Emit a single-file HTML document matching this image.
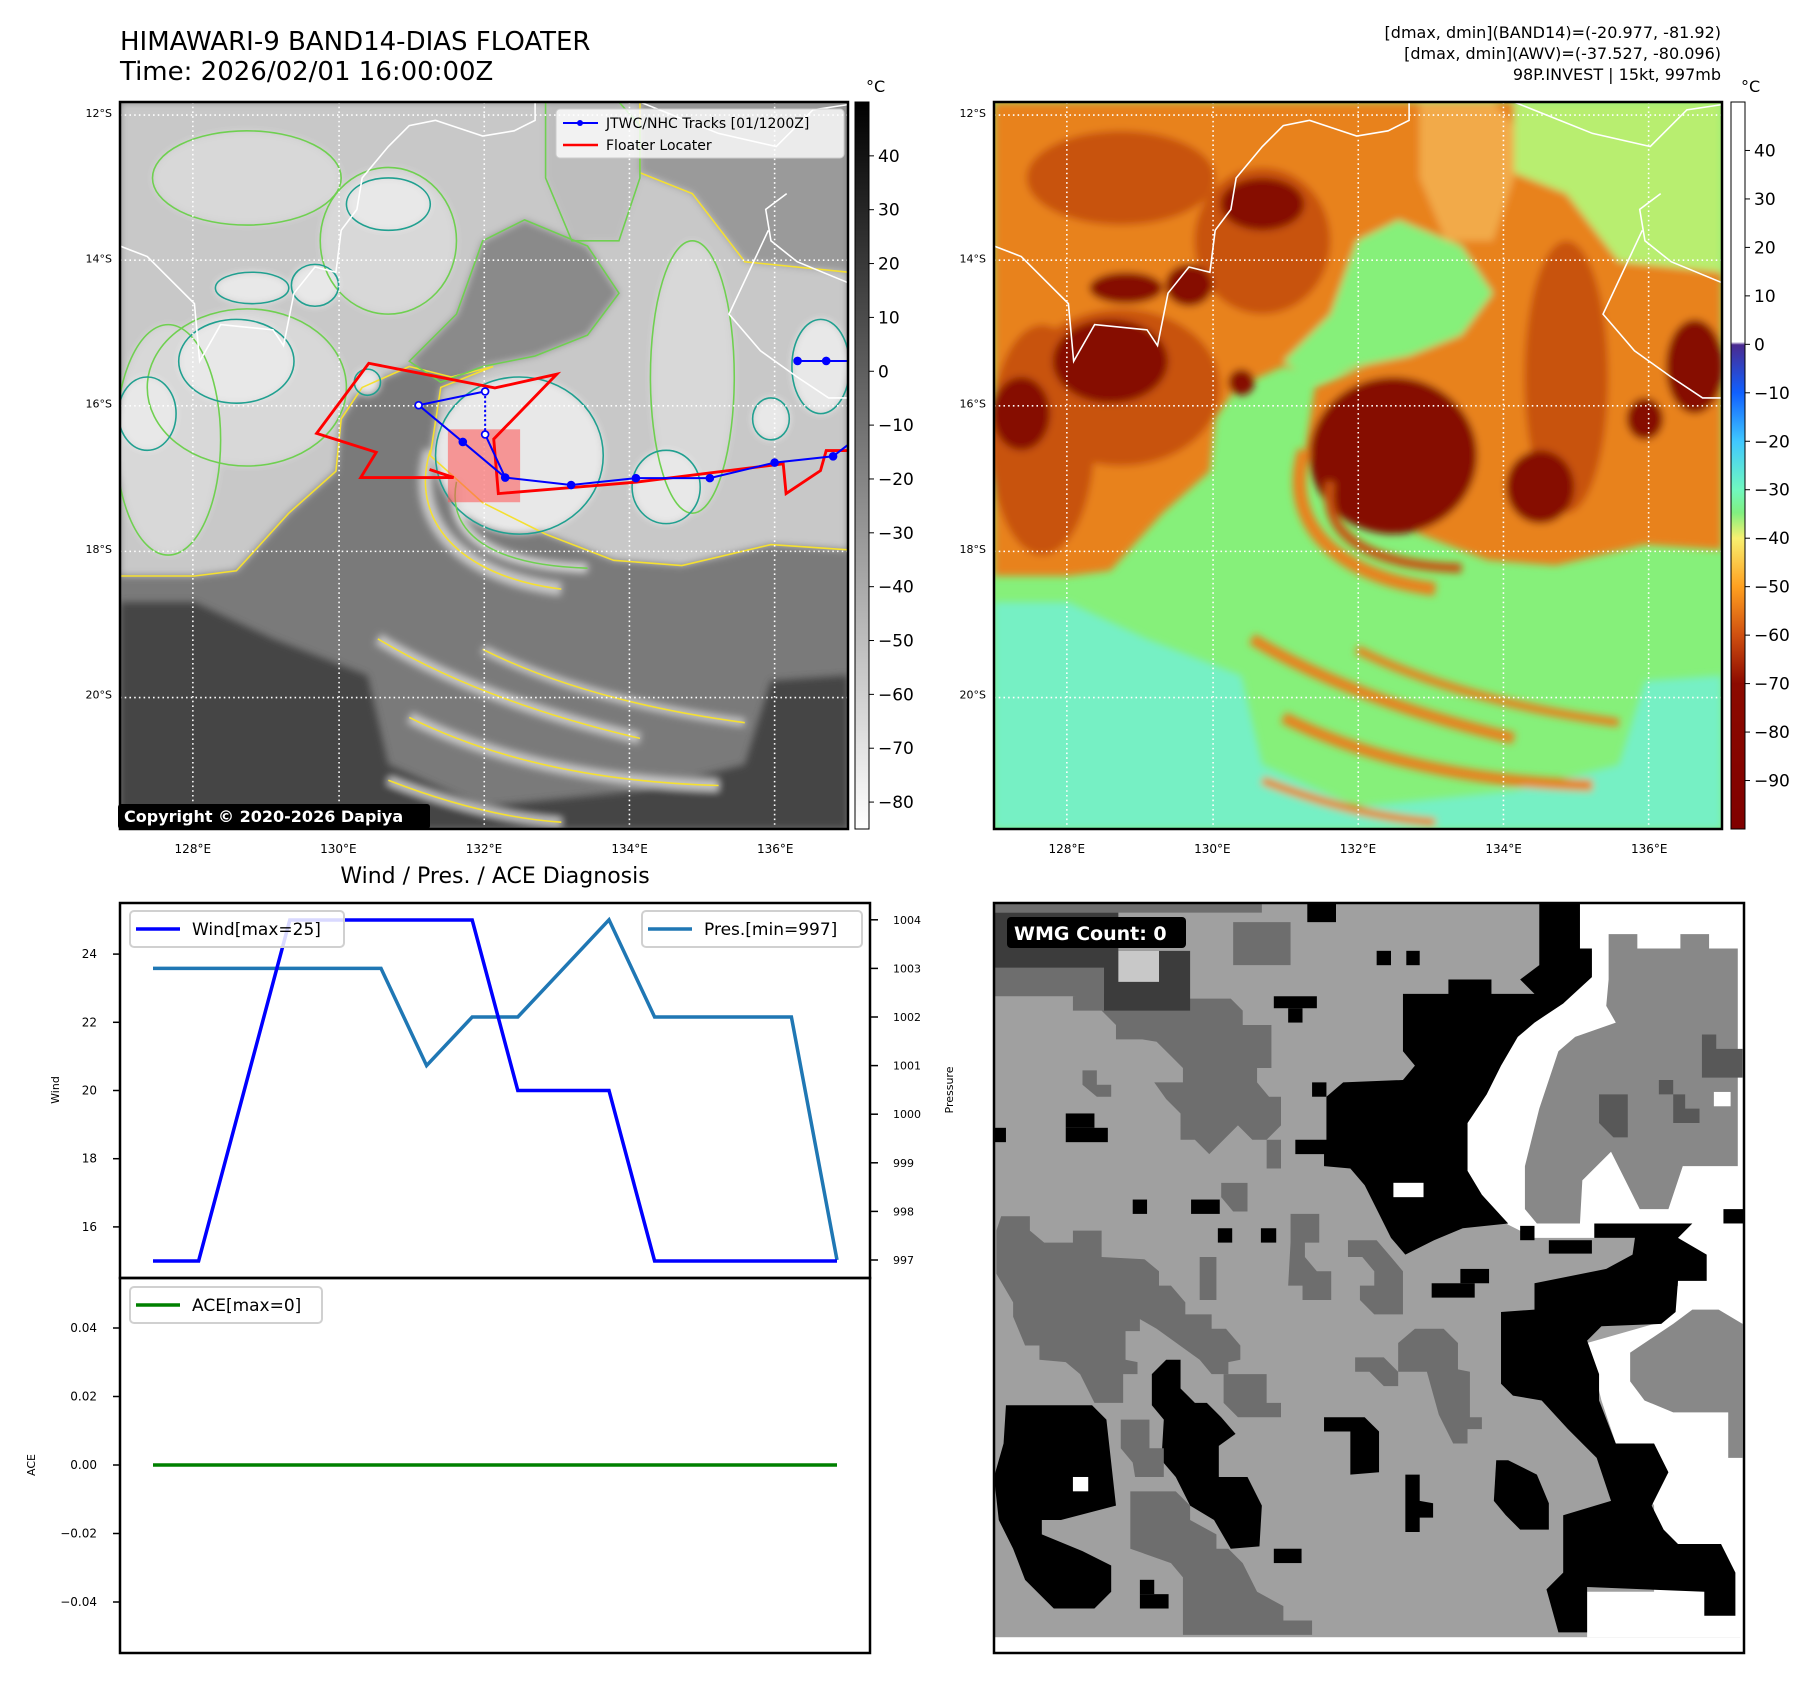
<!DOCTYPE html>
<html><head><meta charset="utf-8"><style>
html,body{margin:0;padding:0;background:#fff;}
svg{display:block;font-family:"DejaVu Sans","Liberation Sans",sans-serif;}
</style></head><body>
<svg id="fig" width="1813" height="1690" viewBox="0 0 1813 1690" xmlns="http://www.w3.org/2000/svg">
<defs>
<filter id="blur" x="-5%" y="-5%" width="110%" height="110%"><feGaussianBlur stdDeviation="7"/></filter>
<linearGradient id="grayCb" x1="0" y1="0" x2="0" y2="1"><stop offset="0" stop-color="#000"/><stop offset="1" stop-color="#fff"/></linearGradient>
<linearGradient id="awvCb" x1="0" y1="0" x2="0" y2="1">
<stop offset="0" stop-color="#fff"/><stop offset="0.330" stop-color="#fff"/><stop offset="0.334" stop-color="#4a2a90"/>
<stop offset="0.40" stop-color="#1060ff"/><stop offset="0.467" stop-color="#40c8ff"/><stop offset="0.533" stop-color="#70f8c0"/>
<stop offset="0.565" stop-color="#80f080"/><stop offset="0.60" stop-color="#f8f070"/><stop offset="0.667" stop-color="#ffa020"/>
<stop offset="0.733" stop-color="#d05010"/><stop offset="0.80" stop-color="#8c0a00"/><stop offset="1" stop-color="#800000"/>
</linearGradient>
<clipPath id="mapClip"><rect x="8" y="155" width="1389" height="1388"/></clipPath>
</defs>

<text x="120" y="50" font-size="26">HIMAWARI-9 BAND14-DIAS FLOATER</text>
<text x="120" y="80" font-size="26">Time: 2026/02/01 16:00:00Z</text>
<g font-size="16" text-anchor="end">
<text x="1721" y="38">[dmax, dmin](BAND14)=(-20.977, -81.92)</text>
<text x="1721" y="59">[dmax, dmin](AWV)=(-37.527, -80.096)</text>
<text x="1721" y="80">98P.INVEST | 15kt, 997mb</text>
</g>

<svg id="leftMap" x="120" y="102" width="728" height="727" viewBox="8 155 1389 1388" preserveAspectRatio="none"></svg>
<rect x="120" y="102" width="728" height="727" fill="none" stroke="#000" stroke-width="2.5"/>
<svg id="rightMap" x="994" y="102" width="728" height="727" viewBox="8 155 1389 1388" preserveAspectRatio="none"></svg>
<rect x="994" y="102" width="728" height="727" fill="none" stroke="#000" stroke-width="2.5"/>

<g>
<rect x="556" y="109" width="288" height="49" rx="4" fill="#fff" fill-opacity="0.8" stroke="#ccc"/>
<line x1="563" y1="123" x2="598" y2="123" stroke="#00f" stroke-width="2"/><circle cx="580" cy="123" r="3" fill="#00f"/>
<text x="606" y="128" font-size="14">JTWC/NHC Tracks [01/1200Z]</text>
<line x1="563" y1="145" x2="598" y2="145" stroke="#f00" stroke-width="2.5"/>
<text x="606" y="150" font-size="14">Floater Locater</text>
</g>
<g>
<rect x="118" y="804" width="312" height="25" rx="3" fill="#000"/>
<text x="124" y="822" font-size="16" font-weight="bold" fill="#fff">Copyright © 2020-2026 Dapiya</text>
</g>

<rect x="855" y="102" width="14" height="727" fill="url(#grayCb)" stroke="#000"/>
<rect x="1731" y="102" width="14" height="727" fill="url(#awvCb)" stroke="#000"/>
<text x="866" y="92" font-size="16">°C</text>
<text x="1741" y="92" font-size="16">°C</text>
<g id="axesLayer"></g>

<text x="495" y="883" font-size="22" text-anchor="middle">Wind / Pres. / ACE Diagnosis</text>
<g id="chartLayer"></g>

<svg id="wmg" x="994" y="903" width="750" height="750" viewBox="0 0 1568 1568" preserveAspectRatio="none"></svg>
<rect x="994" y="903" width="750" height="750" fill="none" stroke="#000" stroke-width="2.5"/>
<g>
<rect x="1007" y="917" width="179" height="31" rx="4" fill="#000"/>
<text x="1014" y="940" font-size="19" font-weight="bold" fill="#fff">WMG Count: 0</text>
</g>
</svg>
<script>
const NS="http://www.w3.org/2000/svg";
function mk(tag,attrs,parent){const e=document.createElementNS(NS,tag);for(const k in attrs)e.setAttribute(k,attrs[k]);if(parent)parent.appendChild(e);return e;}

// ---- chart data ----
const timeSteps=[0,1,2,3,4,5,6,7,8,9,10,11,12,13,14,15];
const windValues=[15,15,20,25,25,25,25,25,20,20,20,15,15,15,15,15];
const presValues=[1003,1003,1003,1003,1003,1003,1001,1002,1002,1003,1004,1002,1002,1002,1002,997];
const aceValues=[0,0,0,0,0,0,0,0,0,0,0,0,0,0,0,0];
const windTicks=[16,18,20,22,24];
const presTicks=[997,998,999,1000,1001,1002,1003,1004];
const aceTicks=[-0.04,-0.02,0.00,0.02,0.04];
const latTicks=[12,14,16,18,20];
const lonTicks=[128,130,132,134,136];
const irCbTicks=[40,30,20,10,0,-10,-20,-30,-40,-50,-60,-70,-80];
const awvCbTicks=[40,30,20,10,0,-10,-20,-30,-40,-50,-60,-70,-80,-90];

const xS=i=>153+i*45.6;
const windY=v=>1261-(v-15)*34.1;
const presY=p=>1260-(p-997)*48.6;
const aceY=v=>1465-v/0.02*68.5;
const lonX=(lon,x0)=>x0+(lon-127)*72.8;
const latY=lat=>102+(lat-11.85)*72.7;
const lab=v=>(v<0?"\u2212":"")+Math.abs(v);

const chart=document.getElementById('chartLayer');
const wf=mk('rect',{x:120,y:903,width:750,height:375,fill:'none',stroke:'#000','stroke-width':2.5},chart);


const af=mk('rect',{x:120,y:1278,width:750,height:375,fill:'none',stroke:'#000','stroke-width':2.5},chart);


windTicks.forEach(v=>{const y=windY(v);
 mk('line',{x1:113,x2:120,y1:y,y2:y,stroke:'#000','stroke-width':1.5},chart);
 const t=mk('text',{x:97,y:y+4,'font-size':12,'text-anchor':'end'},chart);t.textContent=v;
 
 });
presTicks.forEach(v=>{const y=presY(v);
 mk('line',{x1:870,x2:878,y1:y,y2:y,stroke:'#000','stroke-width':1.5},chart);
 const t=mk('text',{x:893,y:y+4,'font-size':11},chart);t.textContent=v;
 
 });
aceTicks.forEach(v=>{const y=aceY(v);
 mk('line',{x1:113,x2:120,y1:y,y2:y,stroke:'#000','stroke-width':1.5},chart);
 const t=mk('text',{x:97,y:y+4,'font-size':12,'text-anchor':'end'},chart);
 t.textContent=(v<0?"\u2212":"")+Math.abs(v).toFixed(2);
 
 });
let yl=mk('text',{x:0,y:0,'font-size':11,'text-anchor':'middle',transform:'translate(59,1090) rotate(-90)'},chart);yl.textContent='Wind';


yl=mk('text',{x:0,y:0,'font-size':11,'text-anchor':'middle',transform:'translate(953,1090) rotate(-90)'},chart);yl.textContent='Pressure';


yl=mk('text',{x:0,y:0,'font-size':11,'text-anchor':'middle',transform:'translate(35,1465) rotate(-90)'},chart);yl.textContent='ACE';


const pl=mk('polyline',{points:timeSteps.map(i=>xS(i)+','+presY(presValues[i])).join(' '),fill:'none',stroke:'#1f77b4','stroke-width':3.5},chart);


const wl=mk('polyline',{points:timeSteps.map(i=>xS(i)+','+windY(windValues[i])).join(' '),fill:'none',stroke:'#0000ff','stroke-width':3.5},chart);


const al=mk('polyline',{points:timeSteps.map(i=>xS(i)+','+aceY(aceValues[i])).join(' '),fill:'none',stroke:'#008000','stroke-width':3.5},chart);


function legend(x,y,w,color,text,name){const g=mk('g',{},chart);
 
 
 mk('rect',{x:x,y:y,width:w,height:36,rx:4,fill:'#fff','fill-opacity':0.85,stroke:'#d0d0d0','stroke-width':2},g);
 mk('line',{x1:x+6,x2:x+50,y1:y+18,y2:y+18,stroke:color,'stroke-width':3.5},g);
 const t=mk('text',{x:x+62,y:y+24,'font-size':17},g);t.textContent=text;}
legend(130,911,214,'#0000ff','Wind[max=25]','wind-legend');
legend(642,911,220,'#1f77b4','Pres.[min=997]','pressure-legend');
legend(130,1287,192,'#008000','ACE[max=0]','ace-legend');

// ---- map axes ----
const ax=document.getElementById('axesLayer');
[[120,112],[994,986]].forEach(([x0,lx])=>{
 latTicks.forEach(l=>{const t=mk('text',{x:lx,y:latY(l)+4,'font-size':11,'text-anchor':'end'},ax);t.textContent=l+'°S';
  
  });
 lonTicks.forEach(l=>{const t=mk('text',{x:lonX(l,x0),y:853,'font-size':12,'text-anchor':'middle'},ax);t.textContent=l+'°E';
  
  });
});
irCbTicks.forEach(v=>{const y=102+(50-v)/135*727;
 mk('line',{x1:869,x2:874,y1:y,y2:y,stroke:'#000'},ax);
 const t=mk('text',{x:878,y:y+6,'font-size':17},ax);t.textContent=lab(v);
 
 });
awvCbTicks.forEach(v=>{const y=102+(50-v)/150*727;
 mk('line',{x1:1745,x2:1750,y1:y,y2:y,stroke:'#000'},ax);
 const t=mk('text',{x:1754,y:y+6,'font-size':17},ax);t.textContent=lab(v);
 
 });

// ---- map imagery (shapes in map viewBox units) ----
const shapes=[
 ['poly','cyan',"8,1110 150,1110 300,1180 480,1250 520,1420 700,1500 1000,1470 1200,1420 1250,1260 1397,1250 1397,1543 8,1543"],
 ['poly','yg',"1000,155 1397,155 1397,480 1200,460 1100,330 1000,290"],
 ['poly','orange',"8,155 1000,155 1000,290 1100,330 1200,460 1397,480 1397,1010 1250,1000 1080,1040 950,1030 820,980 700,920 600,830 620,700 720,660 640,680 560,660 470,700 430,760 420,860 330,940 230,1050 150,1060 8,1060"],
 ['poly','green',"700,420 780,380 900,430 960,520 900,600 800,640 700,660 620,690 560,650 650,560"],
 ['poly','lorange',"820,155 960,155 1000,200 1000,300 960,420 870,420 820,300"],
 ['ell','dorange',[520,420,130,140]],['ell','dorange',[1100,680,80,260]],['ell','dorange',[100,800,100,220]],['ell','dorange',[250,700,190,150]],['ell','dorange',[250,300,180,90]],
 ['ell','red',[770,830,160,150]],['ell','red',[1050,890,65,70]],['ell','red',[1345,660,55,90]],['ell','red',[1250,760,35,40]],
 ['ell','red',[60,750,55,70]],['ell','red',[230,650,110,80]],['ell','red',[380,505,45,40]],['ell','red',[260,510,70,30]],
 ['ell','red',[480,690,25,25]],['ell','red',[520,350,80,50]],
 ['path','orange',"M600,820 C560,950 650,1060 850,1085",26],['path','dorange',"M650,880 C630,980 720,1040 900,1045",18],
 ['path','orange',"M500,1180 Q700,1300 1000,1370",22],['path','orange',"M560,1330 Q800,1450 1150,1460",22],
 ['path','orange',"M700,1200 Q900,1300 1200,1340",16],['path','orange',"M520,1450 Q700,1520 850,1530",16]
];
const palRight={bg:'#86f07a',green:'#86f07a',cyan:'#76f0c4',yg:'#b8ee70',orange:'#e8821e',lorange:'#f2aa48',dorange:'#c8520e',red:'#860c00'};
const palLeft={bg:'#7a7a7a',green:'#8a8a8a',cyan:'#454545',yg:'#9a9a9a',orange:'#c8c8c8',lorange:'#bdbdbd',dorange:'#d8d8d8',red:'#e8e8e8'};
const contour={orange:'#f5e030',lorange:'#6fd050',dorange:'#6fd050',red:'#20a090',yg:null,cyan:null,green:'#6fd050'};
const coast="M8,430 L60,450 L150,540 L160,650 L200,580 L300,590 L320,620 L340,520 L380,470 L420,480 L430,400 L460,360 L470,300 L520,240 L560,200 L610,190 L700,220 L760,210 L800,190 L800,155 M1000,155 L1150,215 L1260,240 L1330,170 L1397,160 M1397,500 L1300,460 L1250,420 L1240,360 L1280,330 M1245,400 L1170,560 L1230,630 L1300,680 L1360,720 L1397,720";
function drawShape(g,s,fill,stroke,sw){
 let e;
 if(s[0]==='poly') e=mk('polygon',{points:s[2]},g);
 else if(s[0]==='ell') e=mk('ellipse',{cx:s[2][0],cy:s[2][1],rx:s[2][2],ry:s[2][3]},g);
 else e=mk('path',{d:s[2]},g);
 if(s[0]==='path'){e.setAttribute('fill','none');e.setAttribute('stroke',stroke||fill);e.setAttribute('stroke-width',stroke?3:s[3]);}
 else{e.setAttribute('fill',fill||'none');if(stroke){e.setAttribute('stroke',stroke);e.setAttribute('stroke-width',sw);}}
 return e;
}
function buildMap(svg,pal,isLeft){
 const g=mk('g',{'clip-path':'url(#mapClip)'},svg);
 mk('rect',{x:8,y:155,width:1389,height:1388,fill:pal.bg},g);
 const b=mk('g',{filter:'url(#blur)'},g);
 shapes.forEach(s=>{const e=drawShape(b,s,pal[s[1]],null,0);
  
  });
 if(isLeft){
  const c=mk('g',{},g);
  shapes.forEach(s=>{const col=contour[s[1]];if(!col)return;
   const e=drawShape(c,s,null,col,3);
   
   });
 }
 const cl=mk('path',{d:coast,fill:'none',stroke:'#fff','stroke-width':3},g);
 
 
 [147,426,703,980,1257].forEach(x=>mk('line',{x1:x,x2:x,y1:155,y2:1543,stroke:'#fff','stroke-width':3,'stroke-dasharray':'3 6'},g));
 [180,457,735,1013,1292].forEach(y=>mk('line',{x1:8,x2:1397,y1:y,y2:y,stroke:'#fff','stroke-width':3,'stroke-dasharray':'3 6'},g));
 return g;
}
buildMap(document.getElementById('rightMap'),palRight,false);
const lg=buildMap(document.getElementById('leftMap'),palLeft,true);
const tg=mk('g',{transform:'matrix(1.0937 0 0 1.0964 -219.5 -40.2)'},lg);
mk('rect',{x:780,y:748,width:126,height:127,fill:'#ff5050','fill-opacity':0.55},tg);
const red=mk('polyline',{points:"748,818 790,832 628,832 655,788 551,755 642,633 862,676 970,652 860,765 868,860 1108,840 1365,808 1370,860 1430,820 1440,785 1478,785",fill:'none',stroke:'#f00','stroke-width':5},tg);


const blue=mk('polyline',{points:"845,682 729,706 806,770 880,832 995,845 1108,833 1237,833 1350,806 1452,795 1478,775",fill:'none',stroke:'#00f','stroke-width':3.5},tg);


mk('line',{x1:845,y1:682,x2:845,y2:757,stroke:'#00f','stroke-width':3.5,'stroke-dasharray':'4 4'},tg);
mk('polyline',{points:"845,757 880,832",fill:'none',stroke:'#00f','stroke-width':3.5},tg);
mk('line',{x1:1390,y1:629,x2:1478,y2:629,stroke:'#00f','stroke-width':3.5},tg);
[[729,706,1],[845,682,1],[845,757,1],[806,770,0],[880,832,0],[995,845,0],[1108,833,0],[1237,833,0],[1350,806,0],[1452,795,0],[1390,629,0],[1440,629,0]].forEach(p=>{
 const c=mk('circle',{cx:p[0],cy:p[1],r:6,fill:p[2]?'#fff':'#00f',stroke:'#00f','stroke-width':3},tg);
 
 });

// ---- WMG panel ----
const w=document.getElementById('wmg');
const A='#a0a0a0',K='#000',W='#fff',G8='#888',G6='#6e6e6e',G4='#3c3c3c',G5='#585858',GL='#c8c8c8';
mk('rect',{x:0,y:0,width:1568,height:1568,fill:W},w);
mk('rect',{x:0,y:0,width:1560,height:1535,fill:A},w);
const wp=[
 [W,"1225,0 1568,0 1568,1535 1240,1535 1240,1440 1380,1440 1380,1260 1300,1130 1270,1040 1240,920 1380,880 1430,800 1430,700 1250,700 1130,700 1070,670 1020,610 990,560 990,460 1030,400 1060,340 1095,280 1130,250 1190,210 1250,150 1250,100 1225,95"],
 [G8,"1285,65 1345,65 1345,95 1435,95 1435,65 1495,65 1495,95 1555,95 1555,550 1440,550 1410,640 1350,640 1320,580 1290,520 1230,580 1225,670 1135,670 1110,640 1110,550 1140,430 1180,310 1215,280 1300,250 1280,215 1285,160"],
 [G8,"1330,940 1420,880 1460,850 1515,850 1565,880 1565,1160 1535,1160 1535,1065 1420,1065 1360,1040 1330,1000"],
 [K,"855,190 950,190 950,160 1040,160 1040,190 1130,190 1100,160 1140,130 1140,0 1225,0 1225,95 1250,95 1250,155 1190,210 1130,250 1095,280 1060,340 1030,400 990,460 990,560 1020,610 1075,670 980,680 920,705 860,735 830,700 800,640 775,590 745,555 690,550 690,525 630,525 630,495 695,495 695,405 730,375 855,370 880,340 855,310"],
 [K,"1255,670 1460,670 1430,700 1490,735 1490,790 1430,790 1425,855 1395,880 1270,885 1240,915 1265,985 1265,1040 1300,1130 1380,1130 1410,1190 1375,1260 1400,1310 1430,1340 1520,1340 1550,1400 1550,1490 1485,1490 1485,1440 1240,1430 1240,1525 1180,1525 1155,1435 1190,1400 1190,1280 1290,1250 1260,1160 1200,1100 1145,1040 1085,1030 1060,1005 1060,855 1130,850 1130,795 1280,765 1335,735 1340,700 1255,700"],
 [K,"25,1050 205,1050 235,1080 255,1260 140,1290 100,1290 100,1320 185,1355 245,1385 245,1440 210,1475 125,1475 65,1415 40,1350 10,1290 0,1200 20,1130"],
 [K,"330,985 360,955 390,955 390,1015 420,1045 445,1045 475,1075 505,1110 470,1135 470,1200 530,1200 560,1260 555,1345 495,1350 460,1290 410,1260 380,1200 350,1165 355,1080 330,1050"],
 [K,"690,1075 775,1075 805,1105 805,1190 745,1195 745,1105 690,1105"],
 [K,"1050,1165 1075,1165 1135,1195 1160,1255 1160,1310 1100,1310 1070,1280 1045,1250"],
 [K,"860,1195 890,1195 890,1250 918,1255 918,1285 890,1285 890,1315 860,1315"],
 [G6,"15,655 75,655 75,685 105,710 165,710 165,685 225,685 225,740 315,745 345,770 345,800 370,800 400,835 400,860 455,860 455,890 485,890 515,925 515,955 490,960 490,985 455,985 430,955 340,890 305,870 305,895 275,895 275,955 300,960 300,985 270,985 270,1045 210,1045 180,985 150,960 95,955 95,925 65,925 40,865 40,835 5,775 5,685"],
 [G6,"340,200 495,200 520,225 520,255 580,255 580,345 550,345 550,375 575,405 600,405 600,465 570,495 540,495 510,465 480,495 450,525 420,495 390,495 390,440 360,410 335,375 395,375 395,345 370,320 340,290 310,285 255,285 255,255 225,225 165,225 165,195 230,190 255,165 340,165"],
 [G6,"620,650 680,650 680,710 650,710 650,740 675,770 705,770 705,830 645,830 645,800 615,800 620,710"],
 [G6,"740,705 800,705 830,740 855,770 855,860 795,860 765,830 765,800 795,800 795,770 770,740 740,740"],
 [G6,"880,890 940,890 970,920 970,975 995,980 995,1075 1020,1075 1020,1100 990,1100 990,1130 960,1130 930,1070 905,980 845,980 845,920"],
 [G6,"755,950 815,950 845,980 845,1010 815,1010 785,980 755,980"],
 [G6,"480,985 570,985 570,1045 600,1045 600,1075 510,1075 480,1045"],
 [G6,"285,1230 380,1230 410,1260 410,1290 465,1320 465,1350 490,1350 520,1380 550,1440 605,1470 605,1500 665,1500 665,1530 395,1530 395,1410 370,1380 285,1350"],
 [G6,"265,1080 325,1080 325,1140 355,1140 355,1200 295,1200 290,1170 265,1140"],
 [G6,"475,585 530,585 530,645 500,645 475,615"],[G6,"430,740 465,740 465,830 430,830"],[G6,"570,495 600,495 600,555 570,555"],
 [G6,"185,350 215,350 215,380 245,380 245,405 215,405 185,380"],
 [G6,"0,0 560,0 560,20 0,20"],[G6,"0,110 230,110 230,195 0,195"],[G6,"500,40 620,40 620,130 500,130"],
 [G4,"0,20 260,20 260,135 0,135"],[G4,"230,100 410,100 410,225 230,225"],[GL,"260,100 345,100 345,165 260,165"],
 [G5,"1480,275 1510,275 1510,305 1565,305 1565,365 1480,365"],[G5,"1265,400 1325,400 1325,490 1295,490 1265,460"],
 [G5,"1390,370 1420,370 1420,400 1445,400 1445,430 1475,430 1475,460 1420,460 1420,400 1390,400"]
];
wp.forEach(p=>{const e=mk('polygon',{points:p[1],fill:p[0]},w);
 
 });
[[915,795,90,30],[975,765,60,30],[150,440,60,30],[150,470,88,30],[585,195,90,25],[615,220,30,30],[800,100,30,30],[862,100,28,30],[290,620,30,30],[412,620,60,30],[468,680,30,30],[558,680,32,30],[0,470,25,30],[665,375,30,30],[305,1415,30,30],[305,1445,60,30],[585,1350,58,30],[655,0,60,40],[1525,640,43,30],[1100,675,30,30],[1160,705,90,28]].forEach(r=>{
 const e=mk('rect',{x:r[0],y:r[1],width:r[2],height:r[3],fill:K},w);
 
 });
[[835,585,63,30],[1505,395,35,30],[165,1200,32,30]].forEach(r=>{
 const e=mk('rect',{x:r[0],y:r[1],width:r[2],height:r[3],fill:W},w);
 
 });
</script>
</body></html>
